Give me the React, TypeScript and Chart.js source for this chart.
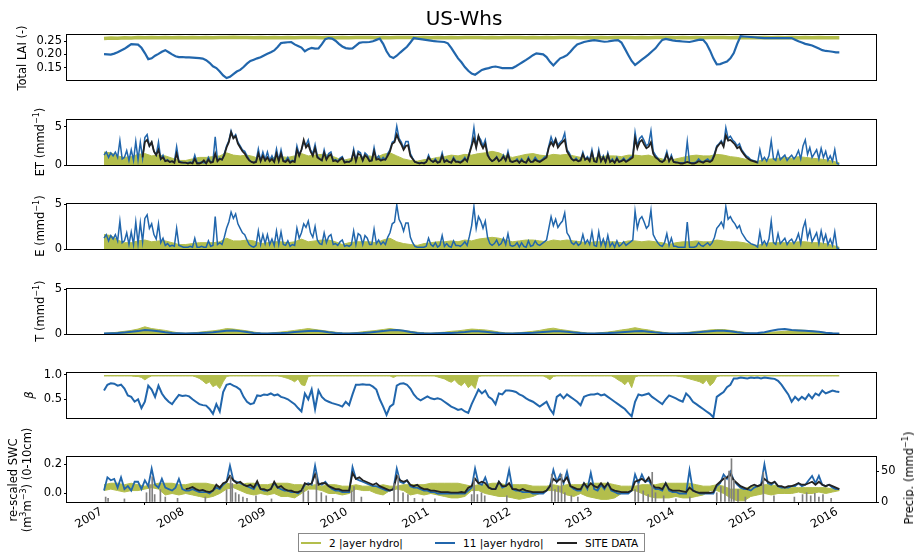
import React, { useEffect, useRef } from "react";
import { Chart, registerables } from "chart.js";
Chart.register(...registerables);

// ---------------- axis constants ----------------
const X_MIN = 2006.547;
const X_MAX = 2016.449;
const YEAR_TICKS = [2007, 2008, 2009, 2010, 2011, 2012, 2013, 2014, 2015, 2016];
const START = 2007;

// ---------------- data ----------------
// Total LAI, 2 layer (12 per year)
const LAI_GREEN = [
  0.26, 0.262, 0.261, 0.263, 0.262, 0.264, 0.263, 0.264, 0.263, 0.264, 0.263, 0.264,
  0.263, 0.264, 0.263, 0.264, 0.263, 0.264, 0.264, 0.265, 0.264, 0.264, 0.263, 0.264,
  0.263, 0.264, 0.263, 0.264, 0.263, 0.264, 0.264, 0.264, 0.263, 0.264, 0.263, 0.264,
  0.263, 0.264, 0.264, 0.264, 0.263, 0.264, 0.263, 0.264, 0.264, 0.264, 0.263, 0.264,
  0.263, 0.264, 0.263, 0.264, 0.263, 0.264, 0.264, 0.264, 0.263, 0.264, 0.263, 0.264,
  0.264, 0.264, 0.263, 0.264, 0.263, 0.264, 0.263, 0.264, 0.264, 0.264, 0.263, 0.264,
  0.263, 0.264, 0.263, 0.264, 0.264, 0.264, 0.263, 0.264, 0.263, 0.264, 0.264, 0.264,
  0.263, 0.264, 0.263, 0.264, 0.263, 0.264, 0.264, 0.264, 0.263, 0.264, 0.263, 0.264,
  0.263, 0.264, 0.263, 0.264, 0.263, 0.264, 0.263, 0.264, 0.263, 0.264, 0.263, 0.263, 0.263,
];
// Total LAI, 11 layer (24 per year)
const LAI_BLUE = [
  0.201, 0.2, 0.199, 0.203, 0.208, 0.215, 0.221, 0.23, 0.239, 0.238, 0.237, 0.225, 0.205, 0.182, 0.185, 0.195, 0.202, 0.21, 0.216, 0.208, 0.2, 0.193, 0.19, 0.19,
  0.189, 0.189, 0.188, 0.187, 0.186, 0.184, 0.178, 0.168, 0.155, 0.148, 0.135, 0.12, 0.11, 0.115, 0.125, 0.135, 0.141, 0.152, 0.165, 0.175, 0.18, 0.185, 0.189, 0.196,
  0.202, 0.208, 0.215, 0.228, 0.243, 0.245, 0.246, 0.247, 0.238, 0.232, 0.226, 0.212, 0.22, 0.225, 0.222, 0.223, 0.239, 0.258, 0.262, 0.26, 0.252, 0.24, 0.23, 0.224,
  0.222, 0.223, 0.233, 0.244, 0.246, 0.246, 0.247, 0.25, 0.255, 0.26, 0.24, 0.212, 0.192, 0.186, 0.195, 0.207, 0.218, 0.229, 0.245, 0.262, 0.26, 0.258, 0.256, 0.254,
  0.252, 0.25, 0.249, 0.248, 0.247, 0.242, 0.225, 0.205, 0.185, 0.17, 0.152, 0.138, 0.127, 0.123, 0.132, 0.141, 0.145, 0.148, 0.152, 0.154, 0.151, 0.148, 0.148, 0.148,
  0.148, 0.155, 0.163, 0.171, 0.179, 0.188, 0.197, 0.204, 0.202, 0.2, 0.19, 0.172, 0.158, 0.172, 0.185, 0.19, 0.197, 0.21, 0.225, 0.238, 0.242, 0.247, 0.25, 0.252,
  0.254, 0.252, 0.25, 0.248, 0.249, 0.251, 0.253, 0.254, 0.245, 0.222, 0.198, 0.175, 0.16, 0.17, 0.18, 0.19, 0.2, 0.212, 0.223, 0.24, 0.255, 0.259, 0.256, 0.253,
  0.251, 0.25, 0.249, 0.248, 0.247, 0.25, 0.253, 0.256, 0.255, 0.24, 0.215, 0.185, 0.162, 0.163, 0.168, 0.173, 0.185, 0.205, 0.24, 0.269, 0.268, 0.267, 0.266, 0.265,
  0.264, 0.263, 0.262, 0.262, 0.262, 0.262, 0.262, 0.262, 0.262, 0.262, 0.262, 0.256, 0.25, 0.245, 0.24, 0.237, 0.234, 0.228, 0.222, 0.216, 0.213, 0.212, 0.21, 0.208, 0.208,
];

// ET, 11 layer (36 per year)
const ET_BLUE = [
  1.3, 1.7, 1.0, 1.6, 1.2, 1.7, 1.0, 3.2, 0.8, 1.0, 1.9, 0.6, 2.0, 0.6, 3.1, 0.7, 3.0, 0.9, 3.6, 4.0, 2.5, 3.0, 1.8, 1.3, 3.0, 0.8, 1.3, 0.5, 0.7, 0.4, 0.5, 0.4, 2.4, 0.5, 0.4, 0.3,
  0.3, 0.3, 0.4, 0.3, 1.3, 0.3, 0.3, 0.4, 0.3, 0.3, 1.0, 0.4, 0.5, 3.7, 0.6, 0.9, 0.7, 1.5, 2.5, 3.2, 4.5, 3.6, 4.0, 3.0, 2.5, 2.0, 1.8, 1.2, 0.7, 0.4, 0.3, 0.5, 2.1, 0.6, 1.7, 0.7,
  1.7, 0.6, 1.2, 0.5, 2.1, 0.6, 2.0, 0.6, 0.5, 1.0, 0.4, 0.6, 0.5, 2.5, 1.4, 2.0, 3.0, 2.6, 3.3, 2.0, 1.5, 2.7, 1.2, 0.8, 0.6, 2.0, 0.8, 1.5, 1.7, 0.6, 0.7, 0.5, 0.9, 1.1, 0.4, 0.5,
  0.4, 0.6, 2.1, 0.6, 1.8, 1.6, 0.6, 1.6, 1.3, 0.6, 0.6, 2.3, 0.8, 1.2, 0.6, 1.0, 0.7, 1.5, 2.0, 3.0, 3.2, 5.1, 3.5, 3.0, 2.2, 3.1, 3.1, 1.5, 0.9, 0.4, 0.3, 0.3, 0.3, 0.3, 0.4, 1.3,
  0.6, 0.4, 0.8, 0.3, 0.5, 1.6, 0.4, 0.7, 0.4, 0.3, 1.0, 0.5, 0.5, 0.4, 0.6, 1.0, 0.5, 1.6, 2.8, 4.9, 2.5, 3.8, 3.3, 2.5, 3.3, 1.5, 0.8, 0.5, 0.7, 1.1, 0.5, 0.7, 1.3, 0.6, 1.8, 0.5,
  0.4, 0.5, 0.8, 0.3, 0.8, 0.4, 0.3, 1.0, 0.4, 0.5, 1.0, 0.6, 0.5, 0.7, 1.0, 1.2, 2.5, 3.7, 2.8, 3.5, 2.6, 3.0, 3.3, 4.2, 2.0, 1.6, 0.9, 0.6, 0.9, 0.5, 0.7, 1.7, 0.7, 1.1, 0.6, 2.0,
  0.5, 0.4, 2.0, 0.5, 1.2, 0.4, 1.6, 0.4, 0.8, 0.3, 1.0, 0.4, 0.6, 0.9, 0.5, 0.7, 1.0, 1.2, 4.3, 2.5, 3.5, 3.8, 3.2, 2.5, 2.8, 4.5, 1.8, 1.3, 0.9, 0.5, 0.4, 0.8, 1.8, 0.5, 1.3, 0.4,
  0.4, 0.3, 0.3, 0.3, 0.3, 3.1, 0.3, 0.3, 0.3, 0.4, 0.8, 0.5, 0.4, 0.6, 0.8, 0.5, 0.8, 1.5, 2.5, 2.8, 3.2, 2.6, 4.9, 3.5, 3.8, 3.3, 3.0, 2.5, 2.8, 2.0, 1.6, 1.2, 1.0, 0.7, 0.6, 0.5,
  0.3, 2.0, 0.6, 1.0, 0.5, 1.2, 3.2, 0.8, 0.6, 1.8, 0.7, 1.0, 1.3, 0.6, 1.0, 1.3, 0.8, 1.2, 1.9, 0.8, 2.5, 3.3, 1.4, 2.3, 1.0, 1.5, 2.0, 0.8, 2.2, 1.0, 1.8, 0.6, 1.2, 0.5, 2.0, 0.2, 0.1,
];
// ET, site data (36 per year, starting at 2007 + 17/36)
const ET_SITE_START_INDEX = 17;
const ET_SITE = [
  1.0, 3.0, 3.3, 2.5, 3.0, 1.8, 1.3, 2.0, 0.8, 1.0, 0.5, 0.6, 0.4, 0.5, 0.3, 1.5, 0.4, 0.3, 0.3,
  0.3, 0.2, 0.3, 0.2, 0.8, 0.2, 0.2, 0.3, 0.6, 0.2, 0.7, 0.3, 0.4, 1.5, 0.5, 0.8, 0.7, 1.3, 2.3, 3.0, 4.3, 3.5, 3.8, 2.8, 2.3, 1.8, 1.5, 1.0, 0.6, 0.4, 0.3, 0.4, 1.5, 0.5, 1.2, 0.6,
  1.0, 0.5, 0.8, 0.4, 1.5, 0.5, 1.5, 0.5, 0.4, 0.7, 0.3, 0.5, 0.4, 2.0, 1.2, 2.0, 3.3, 2.3, 2.7, 1.8, 1.2, 2.2, 1.0, 0.8, 0.6, 1.6, 0.7, 1.2, 1.4, 0.5, 0.6, 0.4, 0.7, 0.9, 0.3, 0.4,
  0.4, 0.6, 1.7, 0.5, 1.5, 1.3, 0.6, 1.3, 1.0, 0.5, 0.6, 1.8, 0.7, 0.8, 0.6, 0.7, 0.7, 1.2, 1.8, 2.8, 3.0, 4.0, 3.2, 2.7, 2.0, 2.5, 2.6, 1.2, 0.8, 0.4, 0.3, 0.2, 0.3, 0.2, 0.4, 1.0,
  0.6, 0.4, 0.6, 0.3, 0.4, 1.2, 0.4, 0.6, 0.4, 0.3, 0.8, 0.4, 0.4, 0.3, 0.5, 0.8, 0.5, 1.5, 2.5, 3.5, 2.3, 3.8, 2.8, 2.2, 2.8, 1.3, 0.8, 0.5, 0.7, 1.0, 0.5, 0.7, 1.1, 0.6, 1.4, 0.5,
  0.4, 0.5, 0.6, 0.3, 0.6, 0.4, 0.3, 0.8, 0.4, 0.4, 0.7, 0.5, 0.4, 0.6, 0.8, 1.0, 2.3, 3.0, 2.5, 3.3, 2.3, 2.7, 3.0, 3.3, 1.8, 1.3, 0.8, 0.6, 0.7, 0.5, 0.6, 1.4, 0.7, 0.9, 0.5, 1.6,
  0.5, 0.4, 1.6, 0.5, 1.0, 0.4, 1.3, 0.4, 0.6, 0.3, 0.8, 0.4, 0.5, 0.7, 0.4, 0.6, 0.8, 1.0, 3.5, 2.2, 3.0, 3.3, 2.7, 2.2, 2.4, 3.0, 1.5, 1.0, 0.8, 0.5, 0.4, 0.6, 1.4, 0.5, 1.0, 0.4,
  0.3, 0.3, 0.2, 0.2, 0.3, 0.4, 0.3, 0.2, 0.2, 0.3, 0.5, 0.4, 0.3, 0.5, 0.5, 0.4, 0.6, 1.3, 2.3, 2.7, 3.0, 2.4, 3.9, 3.2, 3.3, 3.0, 2.7, 2.2, 2.4, 1.8, 1.4, 1.0, 0.8, 0.6, 0.5, 0.4, 0.3,
];
// ET, 2 layer: upper envelope of the daily values (12 per year)
const ET_GREEN = [
  1.7, 1.6, 1.2, 1.0, 1.1, 1.4, 1.5, 1.2, 1.3, 1.2, 0.9, 0.6,
  0.6, 0.8, 1.0, 1.0, 1.1, 1.2, 1.6, 1.3, 1.2, 1.3, 1.1, 0.7,
  0.8, 1.0, 1.1, 1.0, 1.2, 1.5, 1.2, 1.3, 1.4, 1.3, 1.0, 0.6,
  0.8, 1.0, 1.1, 1.2, 1.0, 1.4, 1.6, 1.2, 0.8, 0.6, 0.5, 0.7,
  0.8, 1.0, 1.1, 1.3, 1.2, 1.4, 1.3, 1.5, 1.6, 1.8, 1.6, 1.2,
  1.0, 1.2, 1.4, 1.5, 1.3, 1.2, 1.4, 1.3, 1.4, 1.2, 1.0, 0.8,
  0.9, 1.1, 1.2, 1.2, 1.1, 1.3, 1.3, 1.2, 1.3, 1.0, 0.8, 0.6,
  0.8, 1.0, 1.2, 1.3, 1.2, 1.2, 1.4, 1.3, 1.1, 1.0, 0.8, 0.6,
  0.5, 0.7, 0.8, 0.9, 1.0, 0.9, 1.1, 1.0, 0.9, 0.8, 0.7, 0.5, 0.3,
];

// E, 11 layer (36 per year)
const E_BLUE = [
  1.2, 1.6, 0.9, 1.5, 1.1, 1.6, 0.9, 3.1, 0.7, 0.9, 1.8, 0.5, 1.9, 0.5, 3.0, 0.6, 2.9, 0.8, 3.4, 3.8, 2.3, 2.8, 1.6, 1.1, 2.8, 0.7, 1.2, 0.4, 0.6, 0.3, 0.4, 0.3, 2.3, 0.4, 0.3, 0.2,
  0.2, 0.2, 0.3, 0.2, 1.2, 0.2, 0.2, 0.3, 0.2, 0.2, 0.9, 0.3, 0.4, 3.6, 0.5, 0.7, 0.5, 1.3, 2.3, 3.0, 4.1, 3.4, 3.9, 2.8, 2.3, 1.8, 1.6, 1.0, 0.5, 0.3, 0.2, 0.4, 2.0, 0.5, 1.6, 0.6,
  1.6, 0.5, 1.1, 0.4, 2.0, 0.5, 1.9, 0.5, 0.4, 0.9, 0.3, 0.5, 0.4, 2.3, 1.2, 1.8, 2.8, 2.4, 3.1, 1.8, 1.3, 2.5, 1.0, 0.6, 0.5, 1.8, 0.7, 1.4, 1.6, 0.5, 0.6, 0.4, 0.8, 1.0, 0.3, 0.4,
  0.3, 0.5, 2.0, 0.5, 1.7, 1.5, 0.5, 1.5, 1.2, 0.5, 0.5, 2.2, 0.6, 1.0, 0.5, 0.8, 0.5, 1.3, 1.8, 2.8, 3.0, 4.9, 3.3, 2.8, 2.0, 2.9, 2.9, 1.3, 0.7, 0.3, 0.2, 0.2, 0.2, 0.2, 0.3, 1.2,
  0.5, 0.3, 0.7, 0.2, 0.4, 1.5, 0.3, 0.6, 0.3, 0.2, 0.9, 0.4, 0.4, 0.3, 0.5, 0.8, 0.4, 1.4, 2.6, 4.7, 2.3, 3.6, 3.1, 2.3, 3.1, 1.3, 0.6, 0.4, 0.6, 1.0, 0.4, 0.6, 1.2, 0.5, 1.7, 0.4,
  0.3, 0.4, 0.7, 0.2, 0.7, 0.3, 0.2, 0.9, 0.3, 0.4, 0.9, 0.5, 0.4, 0.6, 0.8, 1.0, 2.3, 3.6, 2.6, 3.3, 2.4, 2.8, 3.1, 4.0, 1.8, 1.4, 0.7, 0.5, 0.8, 0.4, 0.6, 1.6, 0.6, 1.0, 0.5, 1.9,
  0.4, 0.3, 1.9, 0.4, 1.1, 0.3, 1.5, 0.3, 0.7, 0.2, 0.9, 0.3, 0.5, 0.8, 0.4, 0.6, 0.8, 1.0, 4.2, 2.3, 3.3, 3.6, 3.0, 2.3, 2.6, 4.3, 1.6, 1.1, 0.7, 0.4, 0.3, 0.7, 1.7, 0.4, 1.2, 0.3,
  0.3, 0.2, 0.2, 0.2, 0.2, 3.0, 0.2, 0.2, 0.2, 0.3, 0.7, 0.4, 0.3, 0.5, 0.7, 0.4, 0.7, 1.3, 2.3, 2.6, 3.0, 2.4, 4.7, 3.3, 3.6, 3.1, 2.8, 2.3, 2.6, 1.8, 1.4, 1.0, 0.8, 0.6, 0.5, 0.4,
  0.2, 1.9, 0.5, 0.9, 0.4, 1.1, 3.1, 0.7, 0.5, 1.7, 0.6, 0.9, 1.2, 0.5, 0.9, 1.1, 0.6, 1.0, 1.7, 0.6, 2.3, 3.1, 1.2, 2.1, 0.8, 1.3, 1.8, 0.6, 2.0, 0.8, 1.6, 0.5, 1.1, 0.4, 1.9, 0.1, 0.05,
];
// E, 2 layer: upper envelope (12 per year)
const E_GREEN = [
  1.6, 1.5, 1.0, 0.7, 0.7, 0.9, 1.0, 0.8, 0.9, 0.9, 0.7, 0.5,
  0.5, 0.6, 0.7, 0.7, 0.7, 0.8, 1.2, 0.9, 0.9, 1.0, 0.9, 0.6,
  0.7, 0.8, 0.8, 0.7, 0.8, 1.1, 0.8, 0.9, 1.0, 1.0, 0.8, 0.5,
  0.7, 0.8, 0.8, 0.8, 0.7, 1.0, 1.2, 0.8, 0.6, 0.5, 0.4, 0.6,
  0.7, 0.8, 0.8, 0.9, 0.8, 1.0, 0.9, 1.1, 1.2, 1.3, 1.2, 1.0,
  0.8, 0.9, 1.0, 1.0, 0.9, 0.8, 1.0, 0.9, 1.0, 0.9, 0.8, 0.7,
  0.8, 0.8, 0.8, 0.8, 0.7, 0.9, 0.9, 0.8, 0.9, 0.8, 0.7, 0.5,
  0.7, 0.8, 0.8, 0.9, 0.8, 0.8, 1.0, 0.9, 0.8, 0.8, 0.7, 0.5,
  0.4, 0.6, 0.7, 0.7, 0.7, 0.7, 0.8, 0.8, 0.7, 0.7, 0.6, 0.4, 0.2,
];

// T, 2 layer: upper envelope (12 per year)
const T_GREEN = [
  0.08, 0.12, 0.2, 0.3, 0.4, 0.55, 0.8, 0.6, 0.5, 0.4, 0.25, 0.12,
  0.08, 0.12, 0.2, 0.28, 0.35, 0.45, 0.6, 0.55, 0.45, 0.35, 0.22, 0.1,
  0.08, 0.15, 0.22, 0.3, 0.4, 0.5, 0.6, 0.5, 0.4, 0.3, 0.2, 0.1,
  0.1, 0.15, 0.25, 0.32, 0.4, 0.5, 0.6, 0.5, 0.4, 0.3, 0.2, 0.12,
  0.08, 0.15, 0.2, 0.3, 0.35, 0.45, 0.55, 0.5, 0.45, 0.35, 0.22, 0.12,
  0.1, 0.15, 0.22, 0.3, 0.4, 0.55, 0.65, 0.5, 0.4, 0.3, 0.2, 0.1,
  0.08, 0.15, 0.22, 0.32, 0.45, 0.55, 0.7, 0.55, 0.45, 0.3, 0.2, 0.1,
  0.08, 0.12, 0.2, 0.3, 0.35, 0.45, 0.5, 0.5, 0.4, 0.3, 0.2, 0.1,
  0.08, 0.12, 0.2, 0.25, 0.3, 0.4, 0.45, 0.4, 0.35, 0.25, 0.15, 0.08, 0.05,
];
// T, 11 layer (12 per year)
const T_BLUE = [
  0.05, 0.08, 0.12, 0.18, 0.25, 0.32, 0.45, 0.4, 0.3, 0.2, 0.12, 0.08,
  0.05, 0.07, 0.1, 0.15, 0.2, 0.28, 0.35, 0.4, 0.32, 0.22, 0.12, 0.07,
  0.05, 0.07, 0.1, 0.15, 0.22, 0.28, 0.32, 0.35, 0.3, 0.2, 0.12, 0.07,
  0.05, 0.08, 0.12, 0.18, 0.25, 0.32, 0.42, 0.45, 0.35, 0.22, 0.12, 0.07,
  0.05, 0.07, 0.1, 0.12, 0.16, 0.22, 0.3, 0.3, 0.25, 0.18, 0.1, 0.06,
  0.05, 0.07, 0.1, 0.14, 0.2, 0.25, 0.3, 0.3, 0.25, 0.18, 0.1, 0.06,
  0.05, 0.07, 0.1, 0.15, 0.2, 0.26, 0.3, 0.32, 0.26, 0.18, 0.1, 0.06,
  0.05, 0.08, 0.12, 0.18, 0.25, 0.3, 0.35, 0.35, 0.3, 0.2, 0.12, 0.08,
  0.1, 0.2, 0.35, 0.5, 0.55, 0.45, 0.4, 0.35, 0.3, 0.25, 0.15, 0.08, 0.05,
];

// beta, 2 layer: lower envelope, band up to 1.0 (24 per year)
const BETA_GREEN = [
  0.98, 0.98, 0.98, 0.98, 0.98, 0.98, 0.98, 0.98, 0.98, 0.97, 0.97, 0.95, 0.9, 0.95, 0.98, 0.98, 0.98, 0.98, 0.98, 0.98, 0.98, 0.98, 0.98, 0.98,
  0.98, 0.98, 0.98, 0.96, 0.93, 0.88, 0.82, 0.86, 0.76, 0.8, 0.72, 0.86, 0.97, 0.98, 0.98, 0.98, 0.98, 0.98, 0.98, 0.98, 0.98, 0.98, 0.98, 0.98,
  0.98, 0.98, 0.98, 0.98, 0.97, 0.95, 0.93, 0.9, 0.86, 0.92, 0.8, 0.78, 0.97, 0.98, 0.98, 0.98, 0.98, 0.98, 0.98, 0.98, 0.98, 0.98, 0.98, 0.98,
  0.98, 0.98, 0.98, 0.98, 0.98, 0.98, 0.98, 0.98, 0.98, 0.98, 0.98, 0.98, 0.98, 0.95, 0.98, 0.98, 0.98, 0.98, 0.98, 0.98, 0.98, 0.98, 0.98, 0.98,
  0.98, 0.98, 0.96, 0.94, 0.92, 0.88, 0.85, 0.9, 0.82, 0.78, 0.85, 0.74, 0.8, 0.72, 0.97, 0.98, 0.98, 0.98, 0.98, 0.98, 0.98, 0.98, 0.98, 0.98,
  0.98, 0.98, 0.98, 0.98, 0.98, 0.98, 0.98, 0.98, 0.98, 0.98, 0.95, 0.9, 0.97, 0.98, 0.98, 0.98, 0.98, 0.98, 0.98, 0.98, 0.98, 0.98, 0.98, 0.98,
  0.98, 0.98, 0.98, 0.98, 0.98, 0.98, 0.95, 0.9, 0.86, 0.8, 0.88, 0.74, 0.96, 0.98, 0.98, 0.98, 0.98, 0.98, 0.98, 0.98, 0.98, 0.98, 0.98, 0.98,
  0.98, 0.97, 0.96, 0.94, 0.92, 0.9, 0.88, 0.86, 0.82, 0.9, 0.78, 0.84, 0.97, 0.98, 0.98, 0.98, 0.98, 0.98, 0.98, 0.98, 0.98, 0.98, 0.98, 0.98,
  0.98, 0.98, 0.98, 0.98, 0.98, 0.98, 0.98, 0.98, 0.98, 0.98, 0.98, 0.98, 0.98, 0.98, 0.98, 0.98, 0.98, 0.98, 0.98, 0.98, 0.98, 0.98, 0.98, 0.98, 0.98,
];
// beta, 11 layer (24 per year)
const BETA_BLUE = [
  0.68, 0.8, 0.83, 0.82, 0.78, 0.8, 0.72, 0.58, 0.55, 0.45, 0.5, 0.32, 0.45, 0.78, 0.7, 0.55, 0.78, 0.62, 0.52, 0.45, 0.4, 0.5, 0.59, 0.57,
  0.58, 0.56, 0.5, 0.45, 0.4, 0.38, 0.37, 0.3, 0.2, 0.4, 0.25, 0.65, 0.8, 0.82, 0.78, 0.75, 0.7, 0.55, 0.45, 0.4, 0.42, 0.58, 0.57, 0.6,
  0.59, 0.62, 0.58, 0.6, 0.55, 0.53, 0.5, 0.45, 0.4, 0.32, 0.25, 0.62, 0.5, 0.7, 0.3, 0.68, 0.55, 0.48, 0.45, 0.42, 0.4, 0.38, 0.35, 0.45,
  0.38, 0.6, 0.8, 0.8, 0.81, 0.8, 0.8, 0.76, 0.7, 0.5, 0.35, 0.18, 0.35, 0.4, 0.78, 0.82, 0.83, 0.8, 0.72, 0.6, 0.52, 0.48, 0.52, 0.56,
  0.52, 0.5, 0.52, 0.5, 0.45, 0.4, 0.35, 0.32, 0.28, 0.3, 0.25, 0.22, 0.4, 0.55, 0.7, 0.62, 0.68, 0.55, 0.5, 0.4, 0.62, 0.6, 0.68, 0.68,
  0.67, 0.65, 0.6, 0.57, 0.52, 0.48, 0.45, 0.4, 0.35, 0.4, 0.45, 0.3, 0.2, 0.55, 0.6, 0.52, 0.6, 0.55, 0.5, 0.45, 0.38, 0.55, 0.58, 0.6,
  0.6, 0.62, 0.58, 0.6, 0.55, 0.5, 0.45, 0.4, 0.35, 0.3, 0.22, 0.15, 0.45, 0.6, 0.58, 0.6, 0.62, 0.55, 0.5, 0.45, 0.4, 0.5, 0.58, 0.55,
  0.52, 0.48, 0.45, 0.62, 0.55, 0.45, 0.4, 0.35, 0.3, 0.25, 0.2, 0.13, 0.55, 0.6, 0.65, 0.75, 0.8, 0.93, 0.93, 0.95, 0.94, 0.93, 0.95, 0.94,
  0.95, 0.93, 0.95, 0.94, 0.93, 0.92, 0.88, 0.8, 0.7, 0.6, 0.45, 0.55, 0.48, 0.55, 0.5, 0.6, 0.52, 0.62, 0.58, 0.68, 0.62, 0.65, 0.68, 0.66, 0.65,
];

// re-scaled SWC, 2 layer: lower and upper envelopes (12 per year)
const SWC_GREEN_LO = [
  0.02, 0.03, 0.02, 0.01, 0.02, 0.02, 0.03, 0.04, 0.03, -0.01, 0.0, -0.01,
  0.0, -0.01, -0.02, -0.03, -0.02, 0.0, 0.03, 0.04, 0.02, 0.0, -0.01, 0.0,
  -0.01, 0.0, -0.02, -0.02, -0.03, 0.0, 0.03, 0.03, 0.02, 0.0, 0.0, -0.01,
  0.0, 0.03, 0.02, 0.02, 0.0, -0.01, 0.02, 0.03, 0.02, -0.01, 0.0, -0.01,
  0.0, -0.01, -0.02, -0.03, -0.03, -0.02, 0.02, 0.02, 0.0, -0.01, -0.02, -0.02,
  -0.03, -0.04, -0.03, -0.02, 0.0, 0.02, 0.02, 0.01, -0.01, -0.02, 0.0, -0.02,
  -0.03, -0.04, -0.04, -0.03, 0.0, 0.02, 0.02, 0.0, -0.02, -0.03, -0.03, -0.03,
  -0.02, -0.03, -0.03, -0.02, -0.01, 0.02, 0.02, 0.0, -0.03, -0.05, -0.05, -0.02,
  -0.01, 0.0, -0.01, 0.0, 0.0, 0.0, 0.01, 0.0, 0.0, 0.01, 0.0, 0.01, 0.02,
];
const SWC_GREEN_HI = [
  0.06, 0.07, 0.07, 0.06, 0.07, 0.06, 0.05, 0.06, 0.07, 0.07, 0.07, 0.06,
  0.06, 0.07, 0.07, 0.07, 0.06, 0.05, 0.07, 0.06, 0.06, 0.07, 0.07, 0.06,
  0.06, 0.07, 0.07, 0.07, 0.06, 0.06, 0.05, 0.06, 0.05, 0.06, 0.06, 0.05,
  0.05, 0.06, 0.05, 0.05, 0.05, 0.06, 0.05, 0.05, 0.06, 0.06, 0.06, 0.06,
  0.07, 0.07, 0.07, 0.07, 0.07, 0.06, 0.05, 0.06, 0.06, 0.07, 0.07, 0.06,
  0.06, 0.06, 0.06, 0.05, 0.05, 0.05, 0.06, 0.05, 0.06, 0.06, 0.06, 0.07,
  0.07, 0.07, 0.07, 0.06, 0.05, 0.05, 0.05, 0.06, 0.06, 0.06, 0.07, 0.07,
  0.07, 0.07, 0.07, 0.06, 0.05, 0.05, 0.06, 0.05, 0.03, 0.03, 0.03, 0.05,
  0.05, 0.06, 0.06, 0.05, 0.04, 0.04, 0.04, 0.04, 0.04, 0.04, 0.04, 0.03, 0.02,
];
// re-scaled SWC, 11 layer (24 per year)
const SWC_BLUE = [
  0.02, 0.11, 0.09, 0.1, 0.04, 0.11, 0.03, 0.05, 0.02, 0.08, 0.08, 0.03, 0.09, 0.05, 0.17, 0.06, 0.04, 0.1, 0.04, 0.03, 0.02, 0.04, 0.1, 0.03,
  0.02, 0.02, 0.03, 0.02, 0.01, 0.01, 0.01, 0.0, 0.02, 0.04, 0.03, 0.06, 0.08, 0.19, 0.09, 0.08, 0.07, 0.06, 0.05, 0.04, 0.03, 0.07, 0.03, 0.02,
  0.02, 0.03, 0.07, 0.04, 0.03, 0.02, 0.02, 0.01, 0.01, 0.0, 0.02, 0.06, 0.07, 0.06, 0.19, 0.07, 0.06, 0.08, 0.05, 0.03, 0.02, 0.02, 0.01, 0.01,
  0.01, 0.18, 0.1, 0.09, 0.08, 0.07, 0.06, 0.05, 0.05, 0.04, 0.03, 0.02, 0.02, 0.03, 0.17, 0.08, 0.07, 0.09, 0.05, 0.04, 0.04, 0.03, 0.02, 0.02,
  0.01, 0.01, 0.0, 0.0, 0.0, 0.0, 0.0, 0.0, 0.0, 0.0, 0.0, 0.02, 0.04, 0.17, 0.07, 0.06, 0.11, 0.04, 0.03, 0.03, 0.08, 0.04, 0.05, 0.16,
  0.03, 0.02, 0.02, 0.01, 0.01, 0.01, 0.0, 0.0, 0.0, 0.0, 0.02, 0.05, 0.16, 0.08, 0.13, 0.07, 0.15, 0.05, 0.03, 0.02, 0.02, 0.07, 0.03, 0.14,
  0.03, 0.02, 0.06, 0.03, 0.07, 0.02, 0.01, 0.0, 0.0, 0.0, 0.0, 0.02, 0.13, 0.07, 0.13, 0.08, 0.09, 0.05, 0.03, 0.03, 0.02, 0.07, 0.02, 0.01,
  0.01, 0.0, 0.0, 0.0, 0.16, 0.02, 0.01, 0.0, 0.0, 0.0, 0.0, 0.0, 0.05, 0.07, 0.13, 0.1, 0.15, 0.09, 0.06, 0.04, 0.03, 0.03, 0.02, 0.04,
  0.05, 0.06, 0.2, 0.07, 0.06, 0.08, 0.05, 0.04, 0.04, 0.04, 0.05, 0.05, 0.07, 0.05, 0.06, 0.09, 0.12, 0.07, 0.12, 0.06, 0.05, 0.06, 0.04, 0.03, 0.03,
];
// re-scaled SWC, site data (24 per year, starting 2008.0)
const SWC_SITE_START_INDEX = 24;
const SWC_SITE = [
  0.03, 0.035, 0.045, 0.03, 0.02, 0.025, 0.015, 0.01, 0.02, 0.06, 0.04, 0.07, 0.08, 0.12, 0.09, 0.07, 0.08, 0.06, 0.05, 0.06, 0.04, 0.085, 0.03, 0.03,
  0.02, 0.03, 0.08, 0.04, 0.05, 0.03, 0.02, 0.02, 0.01, 0.01, 0.02, 0.07, 0.06, 0.07, 0.13, 0.06, 0.07, 0.07, 0.05, 0.04, 0.03, 0.03, 0.02, 0.02,
  0.02, 0.14, 0.1, 0.11, 0.09, 0.08, 0.07, 0.06, 0.07, 0.05, 0.04, 0.03, 0.02, 0.03, 0.12, 0.09, 0.08, 0.09, 0.06, 0.05, 0.06, 0.04, 0.03, 0.03,
  0.02, 0.02, 0.015, 0.01, 0.01, 0.01, 0.006, 0.006, 0.006, 0.01, 0.006, 0.04, 0.05, 0.1, 0.07, 0.08, 0.07, 0.04, 0.03, 0.03, 0.08, 0.05, 0.05, 0.07,
  0.03, 0.03, 0.02, 0.03, 0.02, 0.015, 0.01, 0.01, 0.01, 0.01, 0.02, 0.05, 0.1, 0.08, 0.1, 0.08, 0.11, 0.05, 0.04, 0.03, 0.03, 0.07, 0.04, 0.07,
  0.05, 0.04, 0.07, 0.04, 0.07, 0.03, 0.02, 0.015, 0.01, 0.01, 0.01, 0.02, 0.08, 0.09, 0.1, 0.08, 0.11, 0.06, 0.04, 0.04, 0.03, 0.07, 0.03, 0.02,
  0.02, 0.02, 0.015, 0.01, 0.04, 0.02, 0.01, 0.005, 0.005, 0.005, 0.005, 0.01, 0.06, 0.08, 0.1, 0.11, 0.13, 0.09, 0.07, 0.05, 0.04, 0.03, 0.05, 0.06,
  0.05, 0.06, 0.1, 0.08, 0.07, 0.08, 0.05, 0.05, 0.04, 0.05, 0.05, 0.06, 0.07, 0.06, 0.06, 0.07, 0.08, 0.06, 0.08, 0.06, 0.05, 0.06, 0.05, 0.04, 0.03,
];
// precipitation events (decimal year, mm/d)
const PRECIP_T = [
  2007.02, 2007.05, 2007.25, 2007.52, 2007.56, 2007.59, 2007.62, 2007.69, 2007.75, 2007.9,
  2008.24, 2008.5, 2008.55, 2008.57, 2008.61, 2008.65, 2008.7, 2008.75, 2008.86, 2009.05,
  2009.44, 2009.5, 2009.6, 2009.66, 2009.72, 2009.8,
  2010.03, 2010.06, 2010.15, 2010.55, 2010.6, 2010.66, 2010.72, 2010.8, 2010.9, 2011.05,
  2011.5, 2011.53, 2011.57, 2011.62, 2011.66, 2011.93,
  2012.48, 2012.52, 2012.56, 2012.6, 2012.64, 2012.72, 2012.8,
  2013.5, 2013.54, 2013.6, 2013.66, 2013.71, 2013.75, 2013.85, 2014.0, 2014.17,
  2014.5, 2014.55, 2014.6, 2014.65, 2014.68, 2014.71, 2014.76, 2014.85,
  2015.07, 2015.2, 2015.45, 2015.55, 2015.6, 2015.65, 2015.7, 2015.75, 2015.8, 2015.9,
];
const PRECIP_V = [
  8, 6, 5, 15, 28, 41, 12, 20, 8, 6,
  8, 20, 42, 30, 15, 12, 8, 6, 10, 5,
  20, 18, 44, 15, 10, 6,
  18, 25, 8, 30, 43, 15, 12, 6, 5, 5,
  12, 38, 12, 15, 10, 10,
  45, 20, 25, 45, 15, 10, 8,
  20, 30, 18, 12, 48, 15, 10, 5, 8,
  15, 25, 40, 50, 70, 35, 20, 8,
  48, 10, 8, 12, 15, 10, 14, 8, 12, 6,
];

// ---------------- styling ----------------
const GREEN = "#b3be4c";
const BLUE = "#2166ac";
const BLACK = "#222222";
const GREY = "#808080";
const FONT = "'DejaVu Sans', sans-serif";
const FONT_SIZE = 11.5;
const TICK_FONT = { family: FONT, size: FONT_SIZE };

function pts(values: number[], startIndex: number, perYear: number) {
  return values.map((v, i) => ({ x: START + (startIndex + i) / perYear, y: v }));
}

function lineDs(data: any[], color: string, width: number, order: number, extra: any = {}) {
  return {
    type: "line",
    data,
    borderColor: color,
    backgroundColor: color,
    borderWidth: width,
    pointRadius: 0,
    tension: 0,
    fill: false,
    order,
    yAxisID: "y",
    ...extra,
  };
}

function yScale(min: number, max: number, ticks: number[], labels: string[], position = "left", width = 67) {
  return {
    type: "linear",
    position,
    min,
    max,
    bounds: "data",
    afterBuildTicks: (s: any) => {
      s.ticks = ticks.map((v) => ({ value: v }));
    },
    afterFit: (s: any) => {
      s.width = width;
    },
    ticks: { font: TICK_FONT, color: "#000", padding: 2, callback: (_v: any, i: number) => labels[i] },
    grid: { display: true, drawOnChartArea: false, drawTicks: true, tickLength: 3, color: "#000" },
    border: { display: false },
  };
}

const X_HIDDEN = { type: "linear", min: X_MIN, max: X_MAX, display: false, bounds: "data", offset: false };
const X_SHOWN = {
  type: "linear",
  min: X_MIN,
  max: X_MAX,
  bounds: "data",
  offset: false,
  afterBuildTicks: (s: any) => {
    s.ticks = YEAR_TICKS.map((v) => ({ value: v }));
  },
  afterFit: (s: any) => {
    s.height = 40;
  },
  ticks: { display: false },
  grid: { display: true, drawOnChartArea: false, drawTicks: true, tickLength: 3, color: "#000" },
  border: { display: false },
};

const framePlugin = {
  id: "frame",
  afterDraw(chart: any) {
    const { ctx, chartArea } = chart;
    const { left, top, right, bottom } = chartArea;
    ctx.save();
    ctx.strokeStyle = "#000";
    ctx.lineWidth = 1;
    ctx.strokeRect(left - 0.5, top - 0.5, right - left + 1, bottom - top + 1);
    ctx.restore();
  },
};

// rotated year labels, matplotlib style: bbox right edge at the tick, bbox top below the axis
const yearLabelPlugin = {
  id: "yearLabels",
  afterDraw(chart: any) {
    const s = chart.scales.x;
    if (!s || s.options.display === false) return;
    const { ctx, chartArea } = chart;
    const ang = Math.PI / 6;
    const h = FONT_SIZE * 0.9;
    ctx.save();
    ctx.font = `${FONT_SIZE}px ${FONT}`;
    ctx.fillStyle = "#000";
    ctx.textAlign = "right";
    ctx.textBaseline = "top";
    YEAR_TICKS.forEach((v) => {
      const px = s.getPixelForValue(v);
      ctx.save();
      ctx.translate(px - h * Math.sin(ang), chartArea.bottom + 4);
      ctx.rotate(-ang);
      ctx.fillText(String(v), 0, 0);
      ctx.restore();
    });
    ctx.restore();
  },
};

function baseOptions(scales: any, padding: any) {
  return {
    animation: false,
    responsive: false,
    maintainAspectRatio: false,
    devicePixelRatio: 1,
    events: [],
    layout: { padding },
    plugins: { legend: { display: false }, tooltip: { enabled: false }, title: { display: false } },
    scales,
  };
}

const PAD = { left: 0, right: 38, top: 20, bottom: 20 };

type Panel = { top: number; height: number; config: () => any };

const PANELS: Panel[] = [
  {
    top: 15,
    height: 85,
    config: () => ({
      type: "line",
      data: {
        datasets: [
          lineDs(pts(LAI_BLUE, 0, 24), BLUE, 2.2, 1),
          lineDs(pts(LAI_GREEN, 0, 12), GREEN, 3.5, 2),
        ],
      },
      options: baseOptions({ x: X_HIDDEN, y: yScale(0.1028, 0.2736, [0.15, 0.2, 0.25], ["0.15", "0.20", "0.25"]) }, PAD),
    }),
  },
  {
    top: 100,
    height: 85,
    config: () => ({
      type: "line",
      data: {
        datasets: [
          lineDs(pts(ET_SITE, ET_SITE_START_INDEX, 36), BLACK, 1.8, 1),
          lineDs(pts(ET_BLUE, 0, 36), BLUE, 1.5, 2),
          lineDs(pts(ET_GREEN, 0, 12), GREEN, 1, 3, { fill: "origin" }),
        ],
      },
      options: baseOptions({ x: X_HIDDEN, y: yScale(0, 5.92, [0, 5], ["0", "5"]) }, PAD),
    }),
  },
  {
    top: 184,
    height: 85,
    config: () => ({
      type: "line",
      data: {
        datasets: [
          lineDs(pts(E_BLUE, 0, 36), BLUE, 1.5, 2),
          lineDs(pts(E_GREEN, 0, 12), GREEN, 1, 3, { fill: "origin" }),
        ],
      },
      options: baseOptions({ x: X_HIDDEN, y: yScale(0, 5, [0, 5], ["0", "5"]) }, PAD),
    }),
  },
  {
    top: 269,
    height: 85,
    config: () => ({
      type: "line",
      data: {
        datasets: [
          lineDs(pts(T_BLUE, 0, 12), BLUE, 2, 2),
          lineDs(pts(T_GREEN, 0, 12), GREEN, 1, 3, { fill: "origin" }),
        ],
      },
      options: baseOptions({ x: X_HIDDEN, y: yScale(0, 5, [0, 5], ["0", "5"]) }, PAD),
    }),
  },
  {
    top: 353,
    height: 85,
    config: () => ({
      type: "line",
      data: {
        datasets: [
          lineDs(pts(BETA_BLUE, 0, 24), BLUE, 2, 2),
          lineDs(pts(BETA_GREEN, 0, 24), GREEN, 1, 3, { fill: { value: 1.0 } }),
        ],
      },
      options: baseOptions({ x: X_HIDDEN, y: yScale(0.115, 1.041, [0.5, 1.0], ["0.5", "1.0"]) }, PAD),
    }),
  },
  {
    top: 437,
    height: 121,
    config: () => ({
      type: "line",
      data: {
        datasets: [
          {
            type: "bar",
            data: PRECIP_T.map((t, i) => ({ x: t, y: PRECIP_V[i] })),
            backgroundColor: GREY,
            borderWidth: 0,
            barThickness: 1,
            grouped: false,
            order: 0,
            yAxisID: "y2",
          },
          lineDs(pts(SWC_SITE, SWC_SITE_START_INDEX, 24), BLACK, 1.8, 1),
          lineDs(pts(SWC_BLUE, 0, 24), BLUE, 1.8, 2),
          lineDs(pts(SWC_GREEN_HI, 0, 12), GREEN, 1, 3, { fill: "+1" }),
          lineDs(pts(SWC_GREEN_LO, 0, 12), GREEN, 1, 4),
        ],
      },
      options: baseOptions(
        {
          x: X_SHOWN,
          y: yScale(-0.058, 0.249, [0.0, 0.2], ["0.0", "0.2"]),
          y2: yScale(0, 72.8, [0, 50], ["0", "50"], "right", 38),
        },
        { left: 0, right: 0, top: 20, bottom: 16 }
      ),
    }),
  },
];

const labelStyle: React.CSSProperties = {
  position: "absolute",
  transform: "translate(-50%, -50%) rotate(-90deg)",
  whiteSpace: "nowrap",
  fontFamily: FONT,
  fontSize: FONT_SIZE,
  lineHeight: "14px",
  color: "#000",
  textAlign: "center",
};
const supStyle: React.CSSProperties = { fontSize: "0.7em", verticalAlign: "super", lineHeight: 0 };

function ChartCanvas({ panel }: { panel: Panel }) {
  const ref = useRef<HTMLCanvasElement | null>(null);
  useEffect(() => {
    if (!ref.current) return;
    const chart = new Chart(ref.current, { ...panel.config(), plugins: [framePlugin, yearLabelPlugin] } as any);
    return () => chart.destroy();
  }, [panel]);
  return (
    <canvas
      ref={ref}
      width={914}
      height={panel.height}
      style={{ position: "absolute", left: 0, top: panel.top, width: 914, height: panel.height }}
    />
  );
}

function LegendItem({ x, color, text }: { x: number; color: string; text: string }) {
  return (
    <>
      <div style={{ position: "absolute", left: x, top: 8, width: 20, height: 0, borderTop: `2px solid ${color}` }} />
      <div
        style={{
          position: "absolute",
          left: x + 28,
          top: 2,
          fontFamily: FONT,
          fontSize: 10.5,
          lineHeight: "14px",
          whiteSpace: "nowrap",
          color: "#000",
        }}
      >
        {text}
      </div>
    </>
  );
}

export default function App() {
  return (
    <div style={{ position: "absolute", left: 0, top: 0, width: 914, height: 558, background: "#fff", overflow: "hidden" }}>
      {PANELS.map((p, i) => (
        <ChartCanvas key={i} panel={p} />
      ))}
      <div
        style={{
          position: "absolute",
          left: 464,
          top: 8,
          transform: "translateX(-50%)",
          fontFamily: FONT,
          fontSize: 20,
          lineHeight: "20px",
          whiteSpace: "nowrap",
          color: "#000",
        }}
      >
        US-Whs
      </div>
      <div style={{ ...labelStyle, left: 22, top: 58 }}>Total LAI (-)</div>
      <div style={{ ...labelStyle, left: 40, top: 142 }}>
        ET (mmd<sup style={supStyle}>−1</sup>)
      </div>
      <div style={{ ...labelStyle, left: 40, top: 226 }}>
        E (mmd<sup style={supStyle}>−1</sup>)
      </div>
      <div style={{ ...labelStyle, left: 40, top: 311 }}>
        T (mmd<sup style={supStyle}>−1</sup>)
      </div>
      <div style={{ ...labelStyle, left: 29, top: 395, fontStyle: "italic" }}>β</div>
      <div style={{ ...labelStyle, left: 20, top: 480 }}>
        re-scaled SWC
        <br />
        (m<sup style={supStyle}>3</sup>m<sup style={supStyle}>−3</sup>) (0-10cm)
      </div>
      <div style={{ ...labelStyle, left: 909, top: 478 }}>
        Precip. (mmd<sup style={supStyle}>−1</sup>)
      </div>
      <div
        style={{
          position: "absolute",
          left: 298,
          top: 533,
          width: 345,
          height: 17,
          border: "1px solid #888",
          background: "#fff",
        }}
      >
        <LegendItem x={2} color={GREEN} text="2 |ayer hydro|" />
        <LegendItem x={136} color={BLUE} text="11 |ayer hydro|" />
        <LegendItem x={258} color={BLACK} text="SITE DATA" />
      </div>
    </div>
  );
}
